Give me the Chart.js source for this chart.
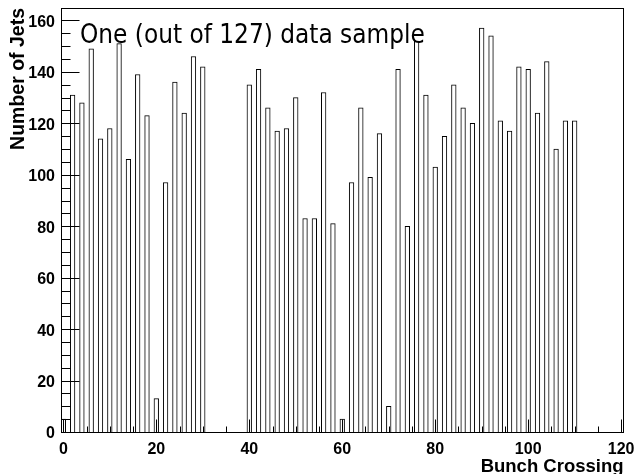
<!DOCTYPE html>
<html>
<head>
<meta charset="utf-8">
<script src="https://cdn.jsdelivr.net/npm/chart.js@4.4.1/dist/chart.umd.min.js"></script>
<style>
  html, body { margin: 0; padding: 0; background: #ffffff; }
  canvas { display: block; }
</style>
</head>
<body>
<canvas id="jets" width="637" height="474"></canvas>
<script>
// histogram data: only the filled bins are listed
const NBINS = 121; // bins 0..120
const filledBins = [
  0, 2, 4, 6, 8, 10, 12, 14, 16, 18, 20, 22, 24, 26, 28, 30,
  40, 42, 44, 46, 48, 50, 52, 54, 56, 58, 60,
  62, 64, 66, 68, 70, 72, 74, 76, 78, 80, 82, 84, 86, 88, 90,
  92, 94, 96, 98, 100, 102, 104, 106, 108, 110
];
const jetCounts = [
  5, 131, 128, 149, 114, 118, 151, 106, 139, 123, 13, 97, 136, 124, 146, 142,
  135, 141, 126, 117, 118, 130, 83, 83, 132, 81, 5,
  97, 126, 99, 116, 10, 141, 80, 152, 131, 103, 115, 135, 126, 120, 157,
  154, 121, 117, 142, 141, 124, 144, 110, 121, 121
];
const Y_MAX = 164.85;
const TITLE_TEXT = 'One (out of 127) data sample';
const X_TITLE = 'Bunch Crossing';
const Y_TITLE = 'Number of Jets';

const BOLD_FAMILY = '"Liberation Sans", Arial, sans-serif';
const LABEL_FONT = { family: BOLD_FAMILY, size: 16, weight: 'bold' };

// full table of bins, empty ones are zero
let binLabels = [];
let binValues = [];
for (let i = 0; i < NBINS; i++) {
    binLabels.push(String(i));
    binValues.push(0);
}
filledBins.forEach((b, i) => { binValues[b] = jetCounts[i]; });

function noScalePadding(scale) {
    scale.paddingLeft = 0;
    scale.paddingRight = 0;
    scale.paddingTop = 0;
    scale.paddingBottom = 0;
}

// frame, inner tick marks, x title and the sample text, the ROOT way
const rootFrame = {
    id: 'rootFrame',
    afterDraw(chart) {
        const ctx = chart.ctx;
        const area = chart.chartArea;
        const xs = chart.scales.x;
        const ys = chart.scales.y;
        const l = Math.floor(area.left) + 0.5;
        const r = Math.floor(area.right) + 0.5;
        const t = Math.floor(area.top) + 0.5;
        const b = Math.floor(area.bottom) + 0.5;
        ctx.save();
        ctx.strokeStyle = '#000';
        ctx.lineWidth = 1;
        ctx.strokeRect(l, t, r - l, b - t);

        ctx.beginPath();
        for (let v = 0; v <= 120; v += 5) {
            const px = Math.round(xs.getPixelForValue(v)) + 0.5;
            const len = (v % 20 === 0) ? 13 : 6;
            ctx.moveTo(px, b);
            ctx.lineTo(px, b - len);
        }
        for (let v = 0; v <= 160; v += 5) {
            const py = Math.round(ys.getPixelForValue(v)) + 0.5;
            const len = (v % 20 === 0) ? 18 : 9;
            ctx.moveTo(l, py);
            ctx.lineTo(l + len, py);
        }
        ctx.stroke();

        ctx.fillStyle = '#000';
        ctx.textBaseline = 'alphabetic';
        ctx.textAlign = 'right';
        ctx.font = 'bold 18.5px ' + BOLD_FAMILY;
        ctx.fillText(X_TITLE, area.right, 471.5);

        ctx.textAlign = 'left';
        ctx.font = '25.9px "DejaVu Sans Condensed", "Open Sans", sans-serif';
        ctx.fillText(TITLE_TEXT, 80, 43);
        ctx.restore();
    }
};

new Chart(document.getElementById('jets'), {
    type: 'bar',
    data: {
        labels: binLabels,
        datasets: [{
            data: binValues,
            backgroundColor: '#ffffff',
            borderColor: '#000000',
            borderWidth: 1,
            barPercentage: 1,
            categoryPercentage: 1
        }]
    },
    options: {
        responsive: false,
        animation: false,
        layout: { padding: { top: 8, right: 13.5, left: 0, bottom: 0 } },
        plugins: {
            legend: { display: false },
            tooltip: { enabled: false }
        },
        scales: {
            x: {
                type: 'category',
                offset: true,
                grid: { display: false, drawTicks: false },
                border: { display: false },
                ticks: {
                    autoSkip: false,
                    maxRotation: 0,
                    color: '#000',
                    font: LABEL_FONT,
                    padding: 8,
                    callback: (val, idx) => (idx % 20 === 0 ? String(idx) : '')
                },
                afterFit(scale) {
                    scale.height = 42;
                    noScalePadding(scale);
                }
            },
            y: {
                min: 0,
                max: Y_MAX,
                grid: { display: false, drawTicks: false },
                border: { display: false },
                ticks: {
                    stepSize: 20,
                    includeBounds: false,
                    color: '#000',
                    font: LABEL_FONT,
                    padding: 6,
                    labelOffset: 2
                },
                title: {
                    display: true,
                    text: Y_TITLE,
                    align: 'end',
                    color: '#000',
                    font: { family: BOLD_FAMILY, size: 19.5, weight: 'bold', lineHeight: 1 },
                    padding: { top: 8.7, bottom: 0 }
                },
                afterFit(scale) {
                    scale.width = 61;
                    noScalePadding(scale);
                }
            }
        }
    },
    plugins: [rootFrame]
});
</script>
</body>
</html>
